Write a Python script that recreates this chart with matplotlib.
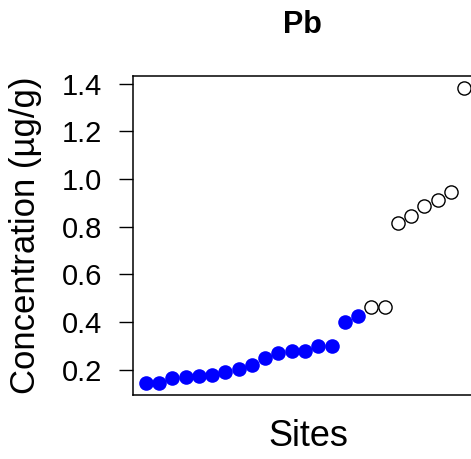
import numpy as np
import matplotlib
matplotlib.use("Agg")
import matplotlib.pyplot as plt

plt.rcParams['font.family'] = ['Liberation Sans', 'DejaVu Sans']

# Pb concentrations per site, sorted (ug/g)
sites = np.arange(1, 26)
pb_conc = [0.144, 0.146, 0.165, 0.172, 0.173, 0.179, 0.193, 0.203, 0.221,
           0.249, 0.270, 0.277, 0.278, 0.298, 0.299, 0.399, 0.427,
           0.463, 0.463, 0.816, 0.844, 0.886, 0.914, 0.945, 1.383]
# True = filled blue marker, False = open marker
filled = [True] * 17 + [False] * 8

yticks = [0.2, 0.4, 0.6, 0.8, 1.0, 1.2, 1.4]

fig = plt.figure(figsize=(4.71, 4.59), dpi=100)
ax = fig.add_axes([0.2824, 0.1394, 0.7303, 0.6950])

x = np.array(sites)
y = np.array(pb_conc)
m = np.array(filled)

ax.plot(x[m], y[m], 'o', color='blue', markersize=10.5, markeredgewidth=0, linestyle='none')
ax.plot(x[~m], y[~m], 'o', markerfacecolor='white', markeredgecolor='black',
        markersize=9.5, markeredgewidth=1.0, linestyle='none')

ax.margins(x=0.04, y=0.04)
ax.set_xticks([])
ax.set_yticks(yticks)
ax.set_yticklabels([f"{v:.1f}" for v in yticks])
ax.tick_params(axis='y', length=10, width=1, labelsize=21, pad=12)
for s in ax.spines.values():
    s.set_linewidth(1.1)

ax.set_ylabel("Concentration (\u00b5g/g)", fontsize=25)
ax.yaxis.set_label_coords(-0.265, 0.5)
ax.set_xlabel("Sites", fontsize=26, va='top')
ax.xaxis.set_label_coords(0.51, -0.075)

fig.text(302 / 471, 1 - 33 / 459, "Pb", ha='center', va='baseline',
         fontsize=22, fontweight='bold')

fig.savefig("out.png", dpi=100)
